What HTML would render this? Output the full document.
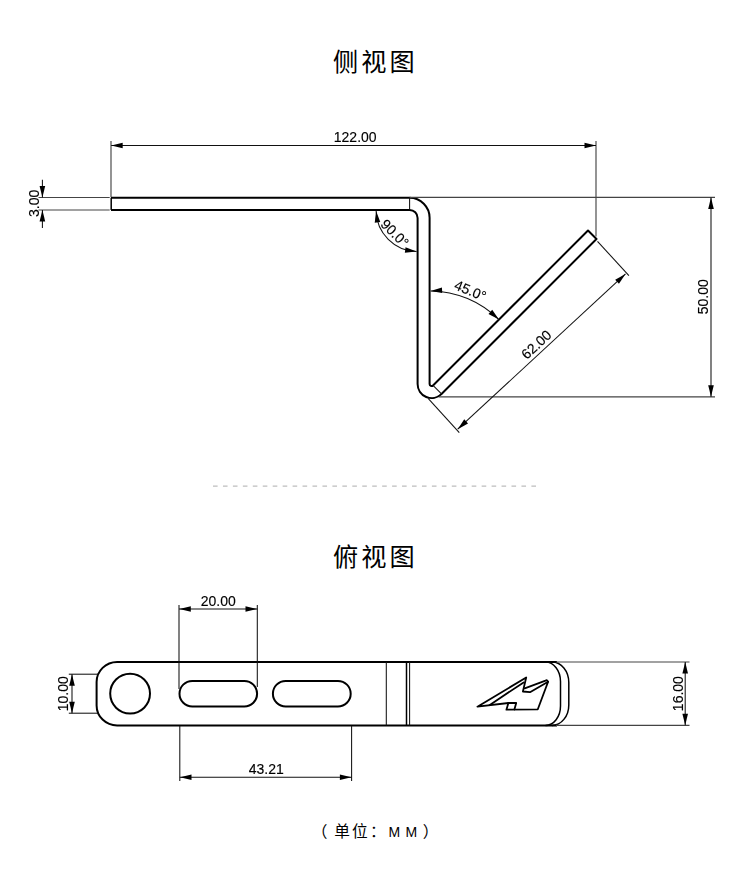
<!DOCTYPE html>
<html lang="zh"><head><meta charset="utf-8"><title>尺寸图</title>
<style>
html,body{margin:0;padding:0;background:#fff;}
body{width:750px;height:870px;overflow:hidden;font-family:"Liberation Sans",sans-serif;}
svg{display:block}
svg text{font-family:"Liberation Sans",sans-serif;fill:#000;stroke:#000;stroke-width:.14px;}
svg text.cj{font-family:"Liberation Sans","Noto Sans CJK SC",sans-serif;stroke:none;}
.tx{filter:grayscale(1)}
.o{fill:none;stroke:#000;stroke-width:2;stroke-linejoin:round}
.m{fill:none;stroke:#000;stroke-width:1.5}
.t{stroke:#111;stroke-width:1.05;fill:none}
.g{stroke:#444;stroke-width:1.15;fill:none}
.l{fill:none;stroke:#000;stroke-width:1.8;stroke-linejoin:round;stroke-linecap:round}
</style></head>
<body>
<svg width="750" height="870" viewBox="0 0 750 870">
<rect width="750" height="870" fill="#fff"/>
<g>
<text class="cj" x="333.02 361.31 389.58" y="70.66" font-size="25.2">侧视图</text>
<text class="cj" x="332.89 361.31 389.58" y="566" font-size="25.2">俯视图</text>
</g>
<g>
<text class="cj" x="311.73 334.16 352 369.92" y="837" font-size="15.7">（单位：<tspan x="388.5 405.5" y="836.6" font-size="14">MM</tspan><tspan x="422.65" y="837" font-size="15.7">）</tspan></text>
</g>
<line x1="213" y1="486.1" x2="537" y2="486.1" stroke="#bdbdbd" stroke-width="1.1" stroke-dasharray="4.6 5.35"/>
<path class="o" d="M111.0,197.8 L409.6,197.8 A20.0,20.0 0 0 1 429.6,217.9 L429.6,384.07 A2.0,2.0 0 0 0 433.01,385.49 L588.00,230.50 L596.50,239.00 L441.50,393.97 A14.0,14.0 0 0 1 417.60,384.07 L417.6,217.9 A8.0,8.0 0 0 0 409.6,209.9 L111.0,209.9"/>
<line class="m" x1="111.20" y1="197.80" x2="111.20" y2="209.90"/>
<line class="t" x1="409.60" y1="197.80" x2="409.60" y2="209.90"/>
<line class="t" x1="433.01" y1="385.49" x2="441.50" y2="393.97"/>
<line class="g" x1="111.00" y1="141.00" x2="111.00" y2="197.00"/>
<line class="g" x1="596.00" y1="141.00" x2="596.00" y2="236.50"/>
<line class="t" x1="111.20" y1="145.45" x2="596.00" y2="145.45"/>
<polygon points="111.20,145.45 122.70,142.65 122.70,148.25" fill="#000"/>
<polygon points="596.00,145.45 584.50,148.25 584.50,142.65" fill="#000"/>
<g class="tx"><text x="355.20" y="142.20" font-size="14" text-anchor="middle" >122.00</text></g>
<line class="g" x1="38.50" y1="197.50" x2="109.70" y2="197.50"/>
<line class="g" x1="38.50" y1="210.00" x2="109.70" y2="210.00"/>
<line class="t" x1="42.40" y1="179.70" x2="42.40" y2="197.50"/>
<line class="t" x1="42.40" y1="209.90" x2="42.40" y2="228.00"/>
<polygon points="42.40,197.50 39.60,186.00 45.20,186.00" fill="#000"/>
<polygon points="42.40,209.90 45.20,221.40 39.60,221.40" fill="#000"/>
<g class="tx"><text x="39.00" y="203.40" font-size="14" text-anchor="middle" transform="rotate(-90 39.00 203.40)" >3.00</text></g>
<line class="g" x1="409.60" y1="197.40" x2="715.00" y2="197.40"/>
<line class="g" x1="439.00" y1="396.80" x2="715.00" y2="396.80"/>
<line class="t" x1="711.00" y1="197.40" x2="711.00" y2="396.80"/>
<polygon points="711.00,197.40 713.80,208.90 708.20,208.90" fill="#000"/>
<polygon points="711.00,396.80 708.20,385.30 713.80,385.30" fill="#000"/>
<g class="tx"><text x="707.80" y="296.80" font-size="14" text-anchor="middle" transform="rotate(-90 707.80 296.80)" >50.00</text></g>
<line class="t" x1="597.50" y1="241.30" x2="628.90" y2="275.70"/>
<line class="t" x1="428.10" y1="398.30" x2="459.30" y2="432.60"/>
<line class="t" x1="625.50" y1="273.90" x2="457.70" y2="429.20"/>
<polygon points="625.50,273.90 618.96,283.77 615.16,279.66" fill="#000"/>
<polygon points="457.70,429.20 464.24,419.33 468.04,423.44" fill="#000"/>
<g class="tx"><text x="539.70" y="348.10" font-size="14" text-anchor="middle" transform="rotate(-42.78446225838562 539.70 348.10)" >62.00</text></g>
<path class="t" fill="none" d="M376.10,210.90 A41.5,41.5 0 0 0 416.60,251.40"/>
<polygon points="376.10,210.90 380.28,221.97 374.72,222.66" fill="#000"/>
<polygon points="416.60,251.40 404.84,252.78 405.53,247.22" fill="#000"/>
<g class="tx"><text x="391.29" y="236.61" font-size="14" text-anchor="middle" transform="rotate(45 391.29 236.61)" >90.0°</text></g>
<path class="t" fill="none" d="M430.60,290.90 A98,98 0 0 1 498.90,319.60"/>
<polygon points="430.60,290.90 441.94,287.50 442.23,293.09" fill="#000"/>
<polygon points="498.90,319.60 488.48,313.99 492.22,309.83" fill="#000"/>
<g class="tx"><text x="468.44" y="295.13" font-size="14" text-anchor="middle" transform="rotate(22.5 468.44 295.13)" >45.0°</text></g>
<path class="o" d="M557.0,662.0 L117.1,662.0 A20.5,20.0 0 0 0 96.6,682.0 L96.6,705.4 A20.5,20.0 0 0 0 117.1,725.4 L557.0,725.4"/>
<path class="m" d="M545.5,662.0 A15,19.5 0 0 1 560.5,681.5 L560.5,705.9 A15,19.5 0 0 1 545.5,725.4"/>
<path class="m" d="M552,662.0 A16.8,20.5 0 0 1 568.8,682.5 L568.8,704.9 A16.8,20.5 0 0 1 552,725.4"/>
<circle class="o" cx="130.1" cy="693.6" r="19.9"/>
<rect class="o" x="179.5" y="680.9" width="77.6" height="25.6" rx="12.8" ry="12.8"/>
<rect class="o" x="272.9" y="680.9" width="77.8" height="25.6" rx="12.8" ry="12.8"/>
<line class="t" x1="386.30" y1="662.00" x2="386.30" y2="725.40"/>
<line class="m" x1="406.50" y1="662.00" x2="406.50" y2="725.40"/>
<line class="t" x1="409.60" y1="662.00" x2="409.60" y2="725.40"/>
<path class="l" d="M477.4,706.7 L526.2,677.5 L522.9,691.5 L530,692.2 L548.1,681.8 L537.8,709.3 L506.4,709.7 L508.4,703 Z"/>
<path class="l" d="M489.8,704.9 L523.6,682.4 M508.4,703 L516.2,703 L514.4,709.5 M524.7,688.3 L546.9,680.2 L548.1,681.8"/>
<line class="t" x1="68.80" y1="674.20" x2="98.30" y2="674.20"/>
<line class="t" x1="68.80" y1="713.20" x2="98.30" y2="713.20"/>
<line class="t" x1="72.00" y1="674.20" x2="72.00" y2="713.20"/>
<polygon points="72.00,674.20 74.80,685.70 69.20,685.70" fill="#000"/>
<polygon points="72.00,713.20 69.20,701.70 74.80,701.70" fill="#000"/>
<g class="tx"><text x="68.50" y="693.70" font-size="14" text-anchor="middle" transform="rotate(-90 68.50 693.70)" >10.00</text></g>
<line class="t" x1="179.00" y1="605.00" x2="179.00" y2="689.00"/>
<line class="t" x1="257.30" y1="605.00" x2="257.30" y2="687.00"/>
<line class="t" x1="179.00" y1="609.00" x2="257.30" y2="609.00"/>
<polygon points="179.30,609.00 190.80,606.20 190.80,611.80" fill="#000"/>
<polygon points="257.00,609.00 245.50,611.80 245.50,606.20" fill="#000"/>
<g class="tx"><text x="218.30" y="605.80" font-size="14" text-anchor="middle" >20.00</text></g>
<line class="t" x1="179.80" y1="726.00" x2="179.80" y2="781.00"/>
<line class="t" x1="351.60" y1="726.00" x2="351.60" y2="781.00"/>
<line class="t" x1="179.80" y1="777.20" x2="351.60" y2="777.20"/>
<polygon points="180.00,777.20 191.50,774.40 191.50,780.00" fill="#000"/>
<polygon points="351.40,777.20 339.90,780.00 339.90,774.40" fill="#000"/>
<g class="tx"><text x="266.20" y="774.20" font-size="14" text-anchor="middle" >43.21</text></g>
<line class="g" x1="556.00" y1="662.00" x2="689.50" y2="662.00"/>
<line class="g" x1="556.00" y1="725.30" x2="689.50" y2="725.30"/>
<line class="t" x1="685.20" y1="662.00" x2="685.20" y2="725.30"/>
<polygon points="685.20,662.00 688.00,673.50 682.40,673.50" fill="#000"/>
<polygon points="685.20,725.30 682.40,713.80 688.00,713.80" fill="#000"/>
<g class="tx"><text x="683.00" y="693.60" font-size="14" text-anchor="middle" transform="rotate(-90 683.00 693.60)" >16.00</text></g>
</svg>
</body></html>
